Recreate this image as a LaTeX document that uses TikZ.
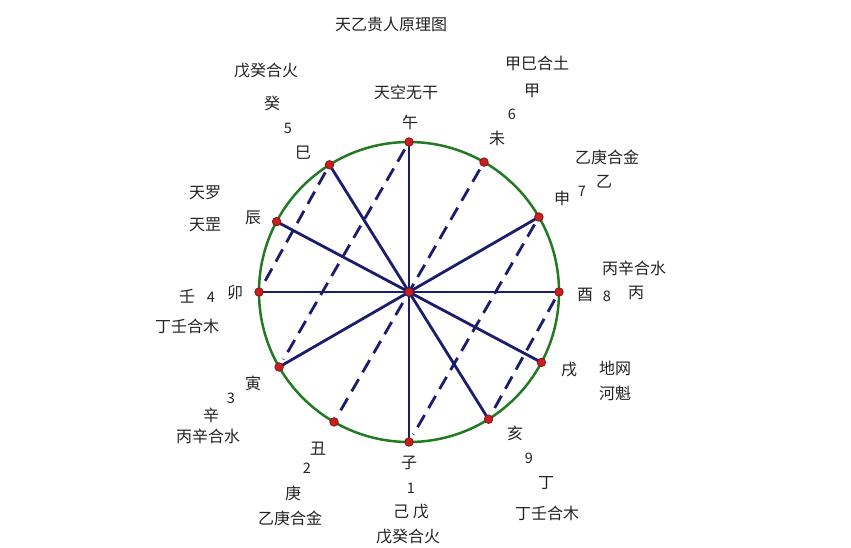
\documentclass[tikz,border=0pt]{standalone}
\usepackage{fontspec}
\newfontfamily\cjk{Noto Sans CJK SC}
\usetikzlibrary{backgrounds}
\definecolor{ringgreen}{RGB}{34,122,34}
\definecolor{navy}{RGB}{28,28,110}
\definecolor{dotred}{RGB}{200,32,32}
\definecolor{dotedge}{RGB}{130,20,20}
\definecolor{txt}{RGB}{35,35,35}
\tikzset{
  dot/.style={circle,fill=dotred,draw=dotedge,line width=0.8pt,inner sep=0pt,minimum size=8.5pt},
  solidline/.style={draw=navy,line width=2.8pt},
  dashline/.style={draw=navy,line width=2.8pt,dash pattern=on 14pt off 8pt,shorten <=4pt,shorten >=4pt},
  ring/.style={draw=ringgreen,line width=2.5pt},
  lbl/.style={inner sep=0pt,text=txt,font=\cjk\fontsize{16}{18}\selectfont},
  num/.style={inner sep=0pt,text=txt,font=\cjk\fontsize{14.5}{15}\selectfont}
}
\begin{document}
\begin{tikzpicture}[x=1pt,y=-1pt]
\useasboundingbox (0,0) rectangle (851,547);
% points
\node[dot] (c) at (409,292) {};
\node[dot] (wu) at (409,142) {};
\node[dot] (wei) at (484,162.1) {};
\node[dot] (shen) at (538.9,217) {};
\node[dot] (you) at (559,292) {};
\node[dot] (xu) at (541.4,362.4) {};
\node[dot] (hai) at (488.5,419.2) {};
\node[dot] (zi) at (409,442) {};
\node[dot] (chou) at (334,421.9) {};
\node[dot] (yin) at (279.1,367) {};
\node[dot] (mao) at (259,292) {};
\node[dot] (chen) at (276.6,221.6) {};
\node[dot] (si) at (329.5,164.8) {};
\begin{scope}[on background layer]
  \fill[white] (0,0) rectangle (851,547);
  \draw[ring] (c.center) circle[radius=150];
  \foreach \p in {wu,shen,you,xu,hai,zi,yin,mao,chen,si}
    \draw[solidline] (c.center) -- (\p.center);
  \draw[dashline] (si) -- (mao);
  \draw[dashline] (wu) -- (yin);
  \draw[dashline] (wei) -- (chou);
  \draw[dashline] (shen) -- (zi);
  \draw[dashline] (you) -- (hai);
\end{scope}
% title
\node[lbl] (title) at (391,24) {天乙贵人原理图};
% top
\node[lbl] (t1) at (406,92) {天空无干};
\node[lbl] (l-wu) at (410,122) {午};
% upper left
\node[lbl] (t2) at (266,71) {戊癸合火};
\node[lbl] (t3) at (272,103) {癸};
\node[num] (n5) at (288,128) {5};
\node[lbl] (l-si) at (303,153) {巳};
% upper right
\node[lbl] (t4) at (537,63) {甲巳合土};
\node[lbl] (t5) at (532,91) {甲};
\node[num] (n6) at (512,114) {6};
\node[lbl] (l-wei) at (497,138) {未};
\node[lbl] (t6) at (607,157) {乙庚合金};
\node[lbl] (t7) at (604,182) {乙};
\node[num] (n7) at (582,191) {7};
\node[lbl] (l-shen) at (562,198) {申};
% left
\node[lbl] (t8) at (205,193) {天罗};
\node[lbl] (t9) at (205,225) {天罡};
\node[lbl] (l-chen) at (253,218) {辰};
\node[lbl] (t10) at (187,296) {壬};
\node[num] (n4) at (211,297) {4};
\node[lbl] (l-mao) at (235,293) {卯};
\node[lbl] (t11) at (187,326) {丁壬合木};
% right
\node[lbl] (t12) at (634,268) {丙辛合水};
\node[lbl] (l-you) at (585,295) {酉};
\node[num] (n8) at (607,296) {8};
\node[lbl] (t13) at (636,293) {丙};
\node[lbl] (l-xu) at (569,370) {戌};
\node[lbl] (t14) at (615,368) {地网};
\node[lbl] (t15) at (615,393) {河魁};
% lower left
\node[lbl] (l-yin) at (253,383) {寅};
\node[num] (n3) at (231,398) {3};
\node[lbl] (t16) at (211,415) {辛};
\node[lbl] (t17) at (208,436) {丙辛合水};
\node[lbl] (l-chou) at (318,449) {丑};
\node[num] (n2) at (307,468) {2};
\node[lbl] (t18) at (293,493) {庚};
\node[lbl] (t19) at (290,518) {乙庚合金};
% bottom
\node[lbl] (l-zi) at (409,463) {子};
\node[num] (n1) at (411,488) {1};
\node[lbl] (t20) at (411,512) {己 戊};
\node[lbl] (t21) at (408,537) {戊癸合火};
% lower right
\node[lbl] (l-hai) at (515,433) {亥};
\node[num] (n9) at (529,458) {9};
\node[lbl] (t22) at (546,483) {丁};
\node[lbl] (t23) at (547,513) {丁壬合木};
\end{tikzpicture}
\end{document}
